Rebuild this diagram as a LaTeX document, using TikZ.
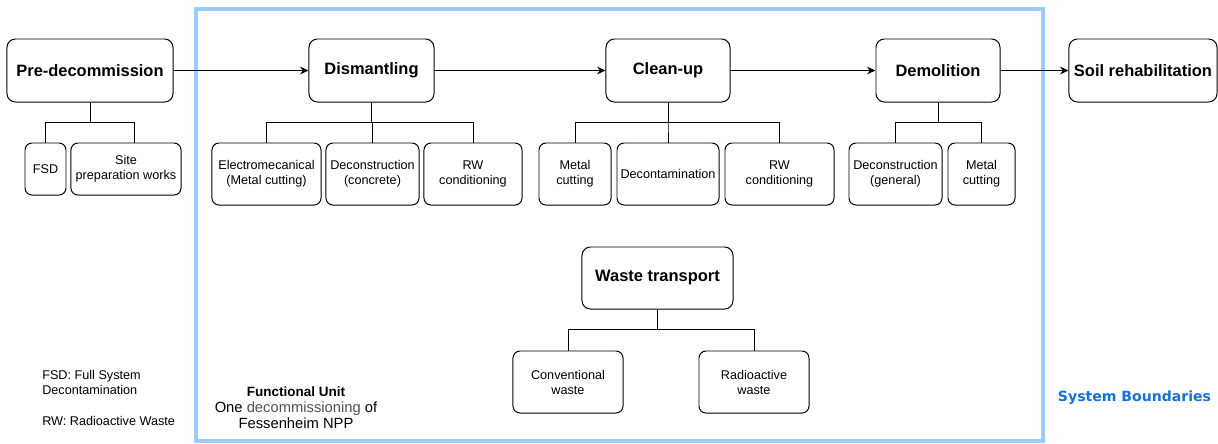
\documentclass[tikz,border=0pt]{standalone}
\usepackage{fontspec}
\setmainfont{Liberation Sans}
\newfontfamily\boundfont{DejaVu Sans}
\usetikzlibrary{arrows.meta}
\definecolor{boundblue}{HTML}{99CCFF}
\definecolor{labelblue}{HTML}{1470DC}
\definecolor{fugray}{HTML}{505050}
\begin{document}
\begin{tikzpicture}[x=0.025cm, y=-0.025cm,
    phase/.style={draw=black, line width=0.7pt, rounded corners=6pt, minimum height=1.575cm,
      inner sep=0pt, font=\fontsize{11.7}{14}\selectfont\bfseries},
    task/.style={draw=black, line width=0.7pt, rounded corners=5pt, minimum height=1.55cm,
      inner sep=0pt, align=center, font=\fontsize{9}{10.7}\selectfont},
    link/.style={black, line width=0.7pt},
    flow/.style={black, line width=0.8pt, -{Stealth[length=6pt, width=5.5pt, inset=2pt]}},
    boundary/.style={boundblue, line width=3pt}]
    \useasboundingbox (0,0) rectangle (1218,443);

    % system boundary
    \draw[boundary] (196,9) rectangle (1043,441);

    % main phases
    \node[phase, minimum width=4.15cm] (predec) at (90,70.5) {Pre-decommission};
    \node[phase, minimum width=3.125cm] (dismant) at (371.5,70.5) {Dismantling};
    \node[phase, minimum width=3.1cm] (cleanup) at (668,70.5) {Clean-up};
    \node[phase, minimum width=3.1cm] (demol) at (938,70.5) {Demolition};
    \node[phase, minimum width=3.7cm] (soil) at (1143,70.5) {Soil rehabilitation};
    \node[phase, minimum width=3.775cm, minimum height=1.55cm] (transp) at (657.5,278) {Waste transport};

    \draw[flow] (predec) -- (dismant);
    \draw[flow] (dismant) -- (cleanup);
    \draw[flow] (cleanup) -- (demol);
    \draw[flow] (demol) -- (soil);

    % sub-tasks
    \node[task, minimum width=1.025cm, minimum height=1.3cm] (fsd) at (45.5,169) {FSD};
    \node[task, minimum width=2.75cm, minimum height=1.3cm] (siteprep) at (126,169) {Site\\preparation works};

    \node[task, minimum width=2.725cm] (electro) at (266.5,174) {Electromecanical\\(Metal cutting)};
    \node[task, minimum width=2.325cm] (deconc) at (372.5,174) {Deconstruction\\(concrete)};
    \node[task, minimum width=2.45cm] (rwcondA) at (473,174) {RW\\conditioning};

    \node[task, minimum width=1.8cm] (metalA) at (575,174) {Metal\\cutting};
    \node[task, minimum width=2.55cm] (decont) at (668,174) {Decontamination};
    \node[task, minimum width=2.725cm] (rwcondB) at (779.5,174) {RW\\conditioning};

    \node[task, minimum width=2.325cm] (decgen) at (895.5,174) {Deconstruction\\(general)};
    \node[task, minimum width=1.675cm] (metalB) at (981.5,174) {Metal\\cutting};

    \node[task, minimum width=2.75cm] (convw) at (568,382) {Conventional\\waste};
    \node[task, minimum width=2.75cm] (radw) at (754,382) {Radioactive\\waste};

    % tree links (shift = offset of the drop on the child)
    \foreach \p/\c/\s in {predec/fsd/0, predec/siteprep/8,
                          dismant/electro/0, dismant/deconc/0, dismant/rwcondA/0,
                          cleanup/metalA/0, cleanup/decont/0, cleanup/rwcondB/0,
                          demol/decgen/0, demol/metalB/0,
                          transp/convw/0, transp/radw/0}
      \draw[link] (\p.south) -- ++(0,20) -| ([xshift=\s*0.025cm]\c.north);

    % legend and labels
    \node[anchor=west, align=left, inner sep=0pt, font=\fontsize{9}{10.7}\selectfont] (abbrfsd) at (42,382.5)
      {FSD: Full System\\Decontamination};
    \node[anchor=west, inner sep=0pt, font=\fontsize{9}{10.7}\selectfont] (abbrrw) at (42,421) {RW: Radioactive Waste};
    \node[align=center, inner sep=0pt, font=\fontsize{10.5}{11.4}\selectfont] (funit) at (296,408)
      {{\fontsize{9.6}{11.4}\selectfont\bfseries Functional Unit}\\One {\color{fugray}decommissioning} of\\Fessenheim NPP};
    \node[inner sep=0pt, text=labelblue, font=\boundfont\fontsize{10}{12}\selectfont\bfseries] (sysb) at (1134.5,398)
      {System Boundaries};
  \end{tikzpicture}
\end{document}
